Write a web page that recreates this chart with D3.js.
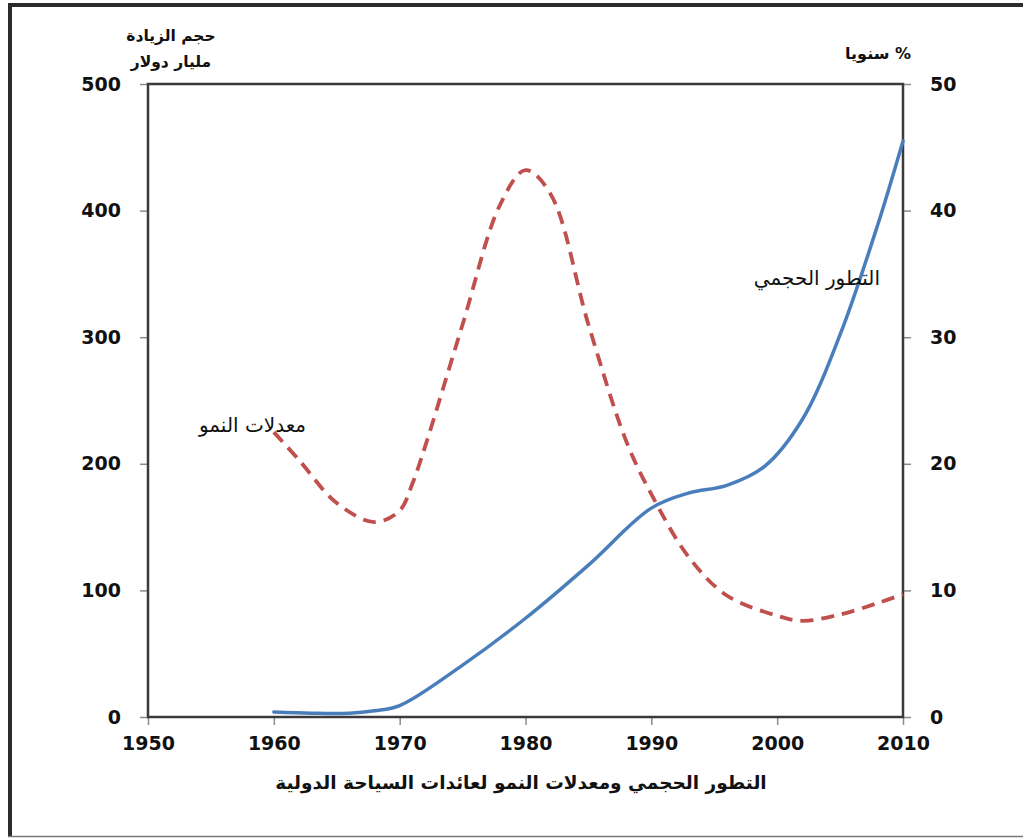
<!DOCTYPE html>
<html>
<head>
<meta charset="utf-8">
<script src="https://cdn.jsdelivr.net/npm/d3@7"></script>
<style>
  body { margin: 0; background: #fff; }
  svg { display: block; }
</style>
</head>
<body>
<div id="chart"></div>
<script>
// years and values
var volYears = [1960, 1963, 1966, 1968, 1970, 1975, 1980, 1985, 1990, 1993, 1996, 1999, 2002, 2005, 2008, 2010];
var volValues = [4, 3, 3, 5, 9, 41, 78, 120, 165, 177, 183, 198, 235, 302, 389, 455]; // مليار دولار

var rateYears = [1960, 1962, 1965, 1968, 1970, 1971, 1972, 1975, 1978, 1980, 1982, 1985, 1988, 1990, 1993, 1996, 2000, 2002, 2005, 2008, 2010];
var rateValues = [22.5, 20.3, 16.9, 15.4, 16.3, 18.4, 21.3, 31, 40.5, 43.2, 41.3, 31, 21.8, 17.6, 12.6, 9.6, 8, 7.6, 8.1, 9, 9.7]; // % سنويا

var xTicks = [1950, 1960, 1970, 1980, 1990, 2000, 2010];
var leftTicks = [0, 100, 200, 300, 400, 500];
var rightTicks = [0, 10, 20, 30, 40, 50];

var W = 1023, H = 838;
var margin = {top: 84, right: 120, bottom: 121, left: 148};
var width = 903 - margin.left,
    height = 717 - margin.top;

var svg = d3.select("#chart").append("svg")
  .attr("width", W)
  .attr("height", H);

// outer frame
svg.append("line").attr("x1", 10).attr("x2", 10).attr("y1", 3).attr("y2", 837)
  .attr("stroke", "#2b2b2b").attr("stroke-width", 4);
svg.append("line").attr("x1", 8).attr("x2", W).attr("y1", 5).attr("y2", 5)
  .attr("stroke", "#2b2b2b").attr("stroke-width", 4);
svg.append("line").attr("x1", 8).attr("x2", W).attr("y1", 836.5).attr("y2", 836.5)
  .attr("stroke", "#777").attr("stroke-width", 1.5);

var g = svg.append("g")
  .attr("transform", "translate(" + margin.left + "," + margin.top + ")");

var x = d3.scaleLinear().domain([1950, 2010]).range([0, width]);
var yL = d3.scaleLinear().domain([0, 500]).range([height, 0]);
var yR = d3.scaleLinear().domain([0, 50]).range([height, 0]);

var tickFont = "'DejaVu Sans', Verdana, sans-serif";

function styleAxis(sel) {
  sel.select(".domain").remove();
  sel.selectAll(".tick line").attr("stroke", "#8c8c8c").attr("stroke-width", 1.5);
  sel.selectAll(".tick text")
    .attr("fill", "#111")
    .style("font-family", tickFont)
    .style("font-size", "19px")
    .style("font-weight", "bold");
}

g.append("g")
  .call(d3.axisLeft(yL).tickValues(leftTicks).tickSize(8).tickPadding(19))
  .call(styleAxis);

g.append("g")
  .attr("transform", "translate(" + width + ",0)")
  .call(d3.axisRight(yR).tickValues(rightTicks).tickSize(8).tickPadding(19))
  .call(styleAxis);

g.append("g")
  .attr("transform", "translate(0," + height + ")")
  .call(d3.axisBottom(x).tickValues(xTicks).tickFormat(d3.format("d")).tickSize(8).tickPadding(12))
  .call(styleAxis);

// plot box
g.append("rect")
  .attr("width", width)
  .attr("height", height)
  .attr("fill", "none")
  .attr("stroke", "#3a3a3a")
  .attr("stroke-width", 2.5);

// lines
var volLine = d3.line()
  .x(function(d, i) { return x(volYears[i]); })
  .y(function(d) { return yL(d); })
  .curve(d3.curveCatmullRom.alpha(0.5));

var rateLine = d3.line()
  .x(function(d, i) { return x(rateYears[i]); })
  .y(function(d) { return yR(d); })
  .curve(d3.curveCatmullRom.alpha(0.5));

g.append("path")
  .datum(rateValues)
  .attr("d", rateLine)
  .attr("fill", "none")
  .attr("stroke", "#C0504D")
  .attr("stroke-width", 3.8)
  .attr("stroke-dasharray", "13,8");

g.append("path")
  .datum(volValues)
  .attr("d", volLine)
  .attr("fill", "none")
  .attr("stroke", "#4A7EBB")
  .attr("stroke-width", 3.5)
  .attr("stroke-linecap", "round");

// texts
var arFont = "'DejaVu Sans', sans-serif";

function arText(px, py, txt, size, weight, anchor) {
  return svg.append("text")
    .attr("x", px)
    .attr("y", py)
    .attr("direction", "rtl")
    .attr("text-anchor", anchor || "middle")
    .style("font-family", arFont)
    .style("font-size", size + "px")
    .style("font-weight", weight)
    .attr("fill", "#111")
    .text(txt);
}

arText(171, 41, "حجم الزيادة", 15.5, "bold");
arText(171, 67, "مليار دولار", 15.5, "bold");
arText(911, 59, "% سنويا", 16, "bold", "start");

arText(306, 432, "معدلات النمو", 20, "normal", "start");
arText(880, 285, "التطور الحجمي", 20, "normal", "start");

arText(521, 789, "التطور الحجمي ومعدلات النمو لعائدات السياحة الدولية", 18.5, "bold");
</script>
</body>
</html>
